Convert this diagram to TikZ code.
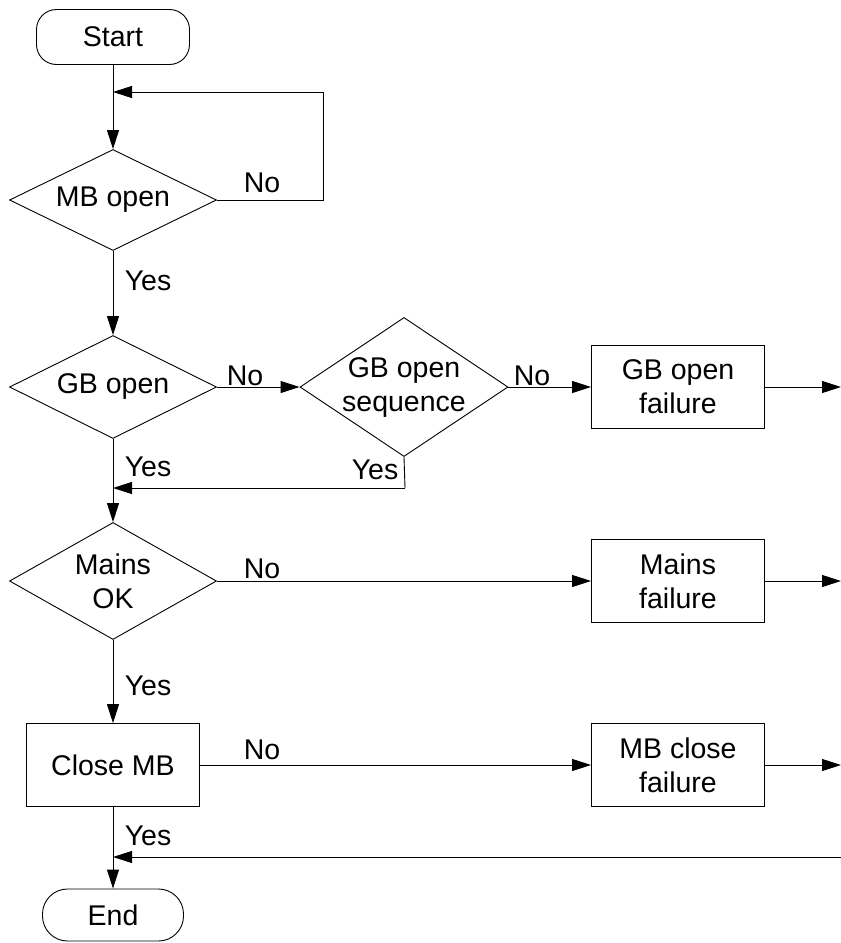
\documentclass[tikz,border=0pt]{standalone}
\usepackage{fontspec}
\setmainfont{Liberation Sans}
\usetikzlibrary{shapes.geometric,arrows.meta}
\begin{document}
\begin{tikzpicture}[x=1pt,y=-1pt,
  every node/.style={font=\fontsize{28.5}{34}\selectfont, align=center},
  line/.style={draw=black, line width=0.9pt},
  arr/.style={line, -{Triangle[length=19pt,width=12pt]}},
  term/.style={draw, line width=0.9pt, inner sep=0pt},
  dia/.style={draw, line width=0.9pt, shape=diamond, inner sep=0pt},
  box/.style={draw, line width=0.9pt, inner sep=0pt, minimum width=173pt, minimum height=83pt},
  lbl/.style={inner sep=0pt}
]
\useasboundingbox (0,0) rectangle (841,943);
% nodes
\node[term, rounded corners=20pt, minimum width=153pt, minimum height=55pt] (start) at (113,37) {Start};
\node[dia, aspect=2.05, minimum width=207pt, minimum height=101pt] (mbopen) at (113,200) {MB open};
\node[dia, aspect=2.0, minimum width=207pt, minimum height=103pt] (gbopen) at (113,387) {GB open};
\node[dia, minimum width=208pt, minimum height=139pt, inner sep=-4pt, aspect=1.5] (gbseq) at (404,387) {GB open\\sequence};
\node[box] (gbfail) at (678,387) {GB open\\failure};
\node[dia, minimum width=207pt, minimum height=117pt, aspect=1.77] (mains) at (113,581) {Mains\\OK};
\node[box] (mainsfail) at (678,581) {Mains\\failure};
\node[box] (closemb) at (113,765) {Close MB};
\node[box] (mbcfail) at (678,765) {MB close\\failure};
\node[term, rounded corners=25pt, minimum width=141pt, minimum height=52pt] (endn) at (113,915) {End};
% junction / free-end coordinates
\coordinate (j1) at (113,92);
\coordinate (c1) at (323,200);
\coordinate (c2) at (323,92);
\coordinate (j2) at (113,488);
\coordinate (c3) at (405,488);
\coordinate (j3) at (113,857);
\coordinate (e1) at (841,387);
\coordinate (e2) at (841,581);
\coordinate (e3) at (841,765);
\coordinate (e4) at (841,857);
% connectors
\draw[arr] (start.south) -- (mbopen.north);
\draw[line] (mbopen.east) -- (c1) -- (c2);
\draw[arr] (c2) -- (j1);
\draw[arr] (mbopen.south) -- (gbopen.north);
\draw[arr] (gbopen.east) -- (gbseq.west);
\draw[arr] (gbseq.east) -- (gbfail.west);
\draw[arr] (gbfail.east) -- (e1);
\draw[line] (gbseq.south) -- (c3);
\draw[arr] (c3) -- (j2);
\draw[arr] (gbopen.south) -- (mains.north);
\draw[arr] (mains.east) -- (mainsfail.west);
\draw[arr] (mainsfail.east) -- (e2);
\draw[arr] (mains.south) -- (closemb.north);
\draw[arr] (closemb.east) -- (mbcfail.west);
\draw[arr] (mbcfail.east) -- (e3);
\draw[arr] (e4) -- (j3);
\draw[arr] (closemb.south) -- (endn.north);
% labels
\node[lbl] (l1) at (262,183) {No};
\node[lbl] (l2) at (148,281) {Yes};
\node[lbl] (l3) at (245,376) {No};
\node[lbl] (l4) at (532,376) {No};
\node[lbl] (l5) at (148,467) {Yes};
\node[lbl] (l6) at (375,470) {Yes};
\node[lbl] (l7) at (262,569) {No};
\node[lbl] (l8) at (148,686) {Yes};
\node[lbl] (l9) at (262,750) {No};
\node[lbl] (l10) at (148,836) {Yes};
\end{tikzpicture}
\end{document}
